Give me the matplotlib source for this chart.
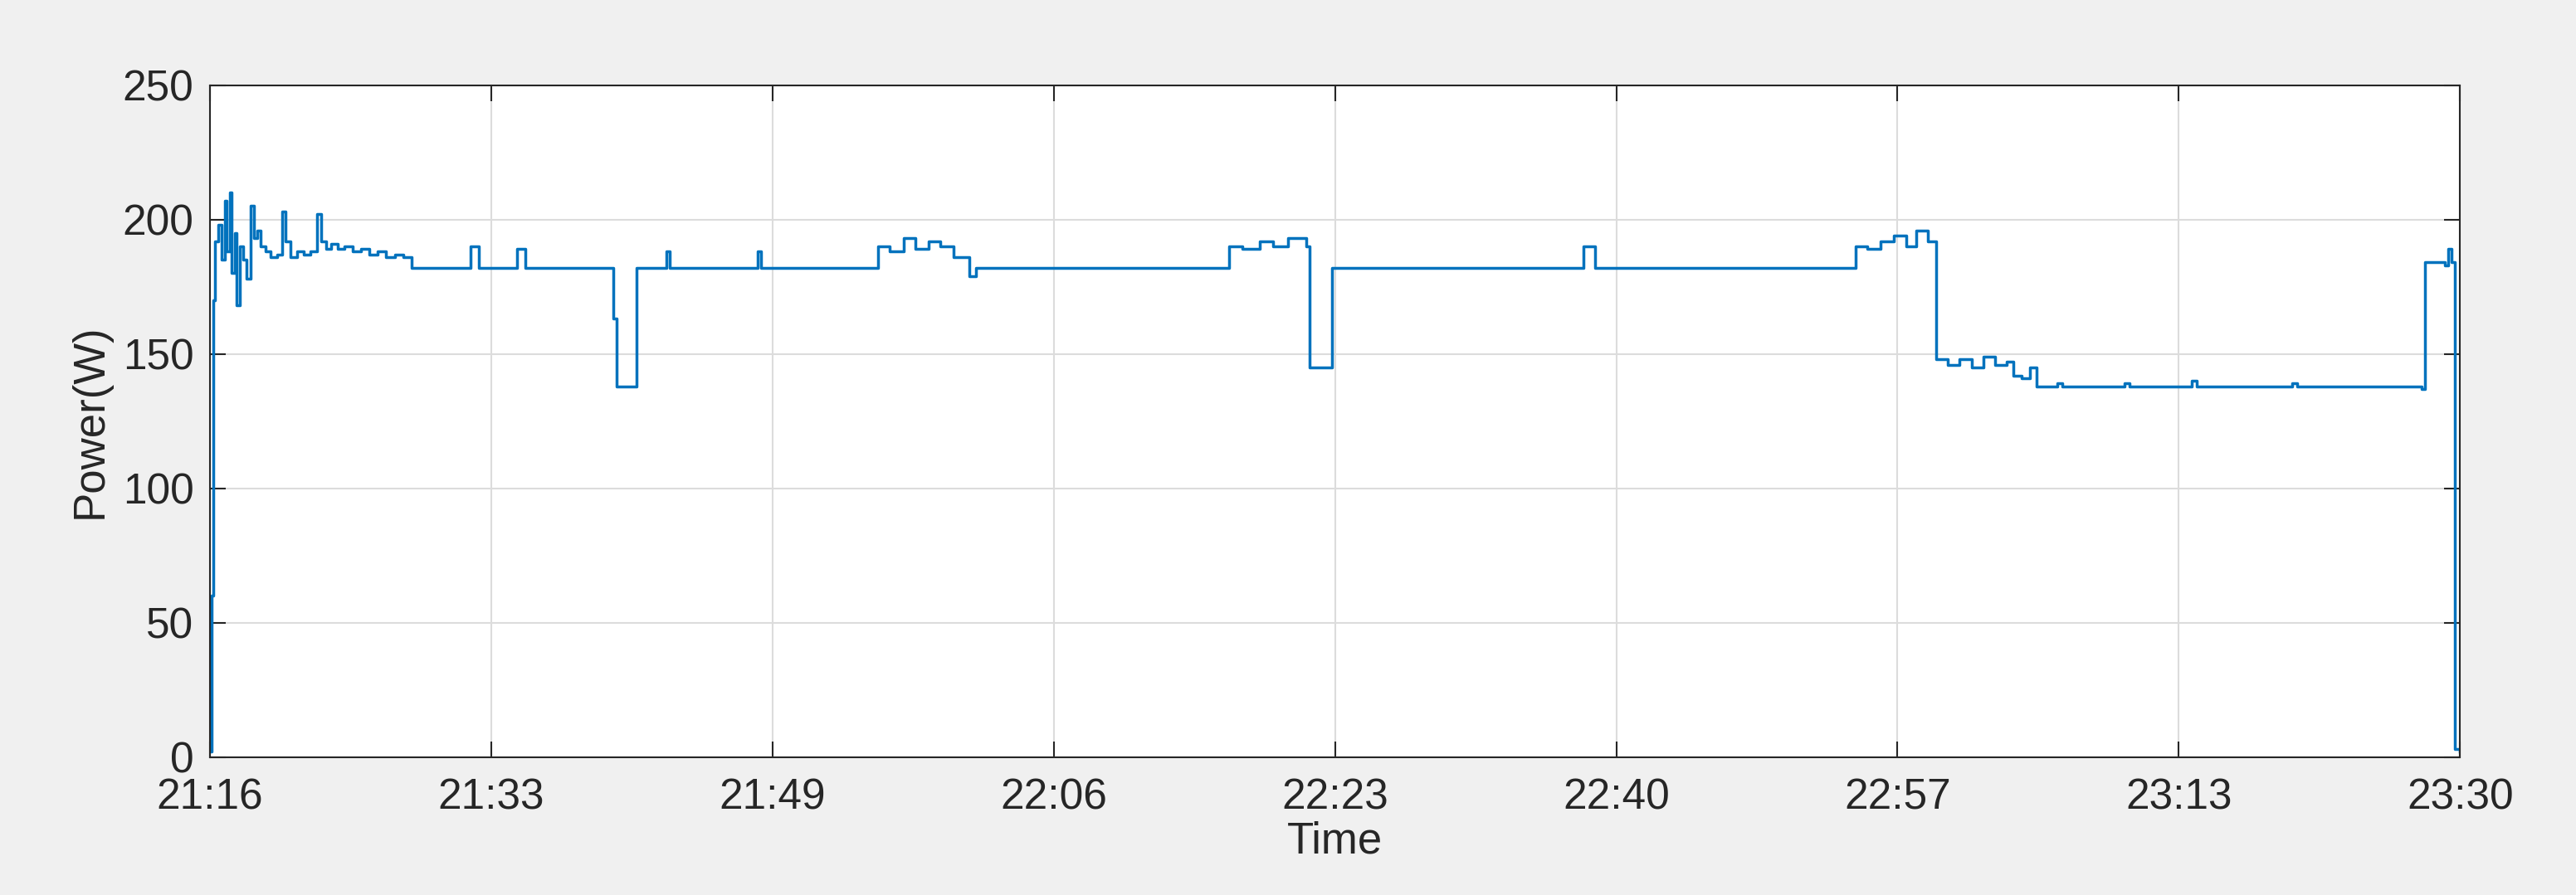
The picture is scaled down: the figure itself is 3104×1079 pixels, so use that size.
import matplotlib.pyplot as plt

plt.rcParams['font.family'] = ['Liberation Sans', 'DejaVu Sans']

# (minutes since 21:16, power W)
samples = [
    (0, 2), (0.1, 60), (0.2, 170), (0.3, 192), (0.5, 198), (0.7, 185), (0.9, 207),
    (1.0, 188), (1.2, 210), (1.3, 180), (1.5, 195), (1.6, 168), (1.8, 190), (2.0, 185),
    (2.2, 178), (2.4, 205), (2.6, 193), (2.8, 196), (3.0, 190), (3.3, 188), (3.6, 186),
    (4.0, 187), (4.3, 203), (4.5, 192), (4.8, 186), (5.2, 188), (5.6, 187), (6.0, 188),
    (6.4, 202), (6.6, 192), (6.9, 189), (7.2, 191), (7.6, 189), (8.0, 190), (8.5, 188),
    (9.0, 189), (9.5, 187), (10.0, 188), (10.5, 186), (11.0, 187), (11.5, 186), (12.0, 182),
    (14.5, 182), (15.5, 190), (16.0, 182), (18.0, 182), (18.3, 189), (18.8, 182),
    (23.8, 182), (24.0, 163), (24.2, 138), (25.3, 138), (25.4, 182), (26.5, 182),
    (27.2, 188), (27.4, 182), (32.4, 182), (32.6, 188), (32.8, 182), (39.7, 182),
    (39.8, 190), (40.5, 188), (41.3, 193), (42.0, 189), (42.8, 192), (43.5, 190),
    (44.3, 186), (45.2, 179), (45.6, 182), (60.6, 182), (60.7, 190), (61.5, 189),
    (62.5, 192), (63.3, 190), (64.2, 193), (65.3, 190), (65.5, 145), (66.6, 145),
    (66.8, 182), (81.7, 182), (81.8, 190), (82.5, 182), (97.9, 182), (98.0, 190),
    (98.7, 189), (99.5, 192), (100.3, 194), (101.0, 190), (101.6, 196), (102.3, 192),
    (102.8, 148), (103.5, 146), (104.2, 148), (104.9, 145), (105.6, 149), (106.3, 146),
    (107.0, 147), (107.4, 142), (107.9, 141), (108.4, 145), (108.8, 138), (110.0, 139),
    (110.3, 138), (114.0, 139), (114.3, 138), (118.0, 140), (118.3, 138), (124.0, 139),
    (124.3, 138), (131.7, 137), (131.9, 184), (133.1, 183), (133.3, 189), (133.5, 184),
    (133.7, 3), (134.0, 2),
]
t = [s[0] for s in samples]
p = [s[1] for s in samples]

tick_pos = [0, 16.75, 33.5, 50.25, 67, 83.75, 100.5, 117.25, 134]
tick_lab = ['21:16', '21:33', '21:49', '22:06', '22:23', '22:40', '22:57', '23:13', '23:30']

fig = plt.figure(figsize=(31.04, 10.79), dpi=100, facecolor='#f0f0f0')
ax = fig.add_axes([0.0815, 0.154, 0.8735, 0.751])
ax.plot(t, p, drawstyle='steps-post', color='#0072bd', lw=2.5)
ax.set_xlim(0, 134)
ax.set_ylim(0, 250)
ax.set_xticks(tick_pos)
ax.set_xticklabels(tick_lab)
ax.set_yticks([0, 50, 100, 150, 200, 250])
ax.grid(True, color='#dcdcdc', lw=1.5)
ax.tick_params(direction='in', length=14, width=1.5, labelsize=37, top=True, right=True,
               colors='#262626')
ax.tick_params(axis='x', pad=18)
ax.tick_params(axis='y', pad=14)
for s in ax.spines.values():
    s.set_color('#262626')
    s.set_linewidth(1.5)
ax.set_xlabel('Time', fontsize=38, color='#262626', labelpad=2)
ax.set_ylabel('Power(W)', fontsize=38, color='#262626', labelpad=10)
fig.savefig('out.png', facecolor=fig.get_facecolor())
